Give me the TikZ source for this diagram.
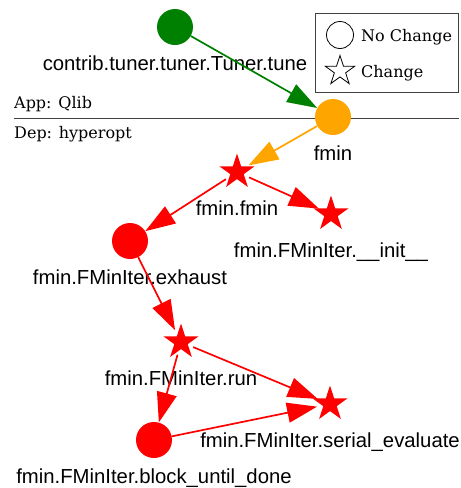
\documentclass[tikz,border=0pt]{standalone}
\usepackage{fontspec}
\newfontfamily\labfont{Liberation Sans}
\newfontfamily\serfont{DejaVu Serif}
\usetikzlibrary{shapes.geometric,arrows.meta}
\definecolor{mgreen}{RGB}{0,128,0}
\definecolor{morange}{RGB}{255,165,0}
\definecolor{mred}{RGB}{255,0,0}
\tikzset{
  nochg/.style={circle, minimum size=36pt, inner sep=0pt, draw=none, fill=#1},
  starm/.style={star, star points=5, star point ratio=2.618, minimum size=37pt, inner sep=0pt, fill=mred, draw=none},
  chg/.style={circle, minimum size=26pt, inner sep=0pt, draw=none, label={[starm]center:}},
  lab/.style={font=\labfont\fontsize{20.3}{24}\selectfont, anchor=base, inner sep=0pt},
  ser/.style={font=\serfont\fontsize{16}{19}\selectfont, anchor=base west, inner sep=0pt},
  conn/.style={draw=#1, line width=1.7pt, -{Triangle[length=30pt, width=20pt]}},
}
\begin{document}
\begin{tikzpicture}[x=1pt, y=-1pt]
\useasboundingbox (0,0) rectangle (461,488);
% separator and layer labels
\draw[black!75, line width=1pt] (14,118) -- (459,118);
\node[ser] (app) at (14,108) {App: Qlib};
\node[ser] (dep) at (14,138) {Dep: hyperopt};
% legend
\draw[black!75, line width=0.9pt, fill=white] (315,13) rectangle (458,92);
\node[circle, minimum size=27pt, inner sep=0pt, draw=black, line width=0.8pt] (lgc) at (340,35) {};
\node[star, star points=5, star point ratio=2.618, minimum size=31pt, inner sep=0pt, draw=black, line width=0.8pt] (lgs) at (340,71) {};
\node[ser] (lgct) at (361,41.5) {No Change};
\node[ser] (lgst) at (361,77) {Change};
% nodes
\node[nochg=mgreen] (tune) at (175,27) {};
\node[nochg=morange] (fmin) at (333,117) {};
\node[chg] (ff) at (237,172) {};
\node[chg] (init) at (331,214) {};
\node[nochg=mred] (exh) at (130,241) {};
\node[chg] (run) at (181,342) {};
\node[chg] (ser) at (330,404) {};
\node[nochg=mred] (blk) at (154,440) {};
% labels
\node[lab] (tunel) at (175,70) {contrib.tuner.tuner.Tuner.tune};
\node[lab] (fminl) at (333,160) {fmin};
\node[lab] (ffl) at (237,215) {fmin.fmin};
\node[lab] (initl) at (331,257) {fmin.FMinIter.\_\_init\_\_};
\node[lab] (exhl) at (130,284) {fmin.FMinIter.exhaust};
\node[lab] (runl) at (181,385) {fmin.FMinIter.run};
\node[lab] (serl) at (330,447) {fmin.FMinIter.serial\_evaluate};
\node[lab] (blkl) at (154,483) {fmin.FMinIter.block\_until\_done};
% connectors
\draw[conn=mgreen] (tune) -- (fmin);
\draw[conn=morange] (fmin) -- (ff);
\draw[conn=mred] (ff) -- (exh);
\draw[conn=mred] (ff) -- (init);
\draw[conn=mred] (exh) -- (run);
\draw[conn=mred] (run) -- (blk);
\draw[conn=mred] (run) -- (ser);
\draw[conn=mred] (blk) -- (ser);
\end{tikzpicture}
\end{document}
